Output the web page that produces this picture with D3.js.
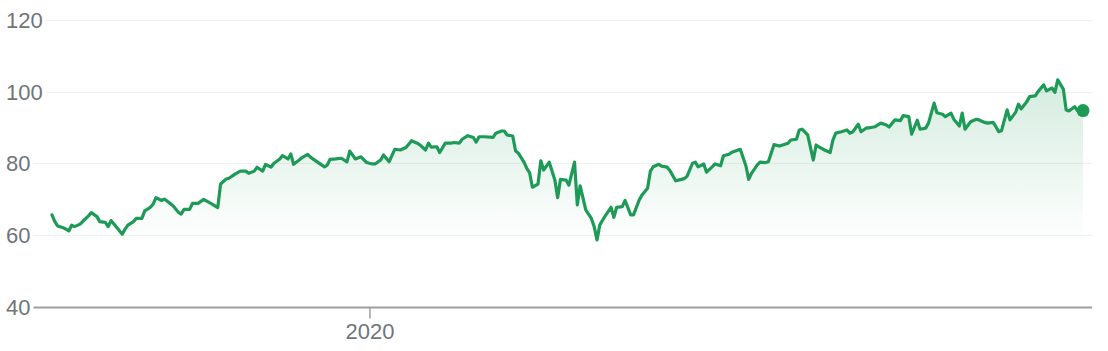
<html>
<head>
<title>Price chart</title>
<script src="https://d3js.org/d3.v7.min.js"></script>
<style>
body { margin: 0; background: #fff; }
svg { display: block; font-family: Arial, 'Liberation Sans', sans-serif; }
.grid { stroke: #f0f0f0; stroke-width: 1; }
.base { stroke: #9e9e9e; stroke-width: 2; }
.label { fill: #70757a; font-size: 22px; }
</style>
</head>
<body>
<div id="plot"></div>
<script>

var width = 1108;
var height = 351;
var lineColor = "#1e9a57";

// first date of the series, every point is a day offset from it
var startDate = new Date(2019, 8, 10);
var endOffset = 367;

var dayOffsets = [0,1,2,4,6,7,8,10,11,13,14,16,17,19,20,21,23,25,26,27,29,30,32,33,35,36,37,39,40,42,43,45,46,47,49,50,
  52,54,57,59,60,62,63,65,67,69,70,72,73,75,76,78,79,81,82,84,85,86,88,89,91,92,94,97,98,99,101,
  103,105,106,108,110,112,114,115,117,118,120,122,124,126,128,130,131,133,134,135,137,138,140,142,143,145,146,148,150,151,152,154,
  157,158,160,161,162,164,165,166,168,169,170,171,173,174,175,177,179,180,181,183,184,186,187,188,190,192,193,194,195,197,199,200,201,203,204,206,
  207,209,210,212,213,214,216,217,219,220,222,223,225,226,228,229,230,232,233,235,236,238,239,241,242,245,247,248,249,251,252,254,255,256,257,
  259,262,263,265,266,267,269,271,272,273,275,277,278,279,281,283,284,285,287,288,290,291,293,295,297,298,300,302,303,305,306,308,
  309,311,312,314,315,317,318,320,321,323,324,325,327,329,330,332,333,335,336,337,338,340,341,343,344,345,347,348,350,351,353,354,356,357,358,360,361,362,364,365,367];

var prices = [65.6,63.7,62.5,62.0,61.1,62.7,62.3,63.0,63.8,65.3,66.2,65.1,63.7,63.5,62.3,64.0,62.1,60.2,61.6,62.7,63.7,64.6,64.6,66.7,67.7,68.6,70.4,69.6,70.0,68.8,68.2,66.3,65.8,67.1,67.1,68.8,
  68.8,69.9,68.6,67.6,74.2,75.6,75.8,76.9,77.8,77.8,77.2,77.8,78.9,77.8,79.7,78.9,80.0,81.1,82.1,81.2,82.6,79.7,80.9,81.6,82.5,81.7,80.6,79.0,79.5,81.1,81.2,
  81.4,80.4,83.4,81.2,81.8,80.2,79.8,79.8,80.9,82.3,80.4,83.9,83.7,84.4,86.3,85.6,85.1,83.7,85.6,84.5,84.6,83.0,85.6,85.6,85.8,85.6,86.7,87.7,87.2,85.9,87.4,87.4,
  87.2,88.4,89.0,89.0,87.9,87.6,83.5,82.8,80.3,78.6,77.4,73.3,74.2,80.7,78.1,80.3,75.3,70.4,75.5,75.3,73.9,80.3,68.4,73.7,67.0,64.6,62.3,58.6,62.8,65.4,67.7,64.9,67.7,67.9,69.6,65.6,
  65.6,69.7,71.1,73.0,77.8,79.0,79.7,79.2,78.9,77.9,75.1,75.3,75.7,76.3,80.0,80.3,79.0,79.8,77.5,79.0,79.8,79.3,82.1,82.5,83.1,83.9,79.3,75.5,77.2,79.5,80.3,80.2,80.4,82.8,85.2,
  84.8,85.6,86.5,86.7,89.3,89.5,87.9,80.9,85.1,84.6,83.7,83.0,86.5,88.4,88.8,89.3,88.4,88.7,90.9,88.8,89.9,89.9,90.2,91.2,90.7,90.1,92.1,91.9,93.3,93.0,88.1,92.0,
  89.5,89.8,91.2,96.8,94.1,93.7,93.0,94.0,92.3,90.4,94.0,89.5,91.6,92.3,92.1,91.4,91.2,91.4,90.2,88.8,89.1,94.9,92.1,94.2,96.5,95.2,97.2,98.6,98.8,100.0,101.9,100.2,101.0,99.8,103.3,100.7,94.9,94.6,95.8,94.7,94.7];

var yTicks = [120, 100, 80, 60, 40];
var xTickDates = [new Date(2020, 0, 1)];

var data = dayOffsets.map(function (d, i) {
  return { date: d3.timeDay.offset(startDate, d), price: prices[i] };
});

var svg = d3.select("#plot").append("svg")
  .attr("width", width).attr("height", height);

var xScale = d3.scaleTime()
  .domain([startDate, d3.timeDay.offset(startDate, endOffset)])
  .range([52, 1083]);
var yScale = d3.scaleLinear().domain([40, 120]).range([306.5, 20]);

var gridRight = 1092;

// y labels and grid lines, lines start just after the label text
yTicks.forEach(function (t) {
  var y = Math.round(yScale(t)) + 0.5;
  var label = svg.append("text").attr("class", "label")
    .attr("x", 6).attr("y", y)
    .attr("dy", "0.36em")
    .text(t);
  var textEnd = 6 + label.node().getComputedTextLength();
  svg.append("line")
    .attr("class", t === 40 ? "base" : "grid")
    .attr("x1", textEnd + 3).attr("x2", gridRight)
    .attr("y1", y).attr("y2", y);
});

// area gradient
var defs = svg.append("defs");
var grad = defs.append("linearGradient").attr("id", "fade")
  .attr("gradientUnits", "userSpaceOnUse")
  .attr("x1", 0).attr("x2", 0)
  .attr("y1", yScale(d3.max(prices))).attr("y2", yScale(58));
grad.append("stop").attr("offset", "0%").attr("stop-color", lineColor).attr("stop-opacity", 0.19);
grad.append("stop").attr("offset", "100%").attr("stop-color", lineColor).attr("stop-opacity", 0);

var area = d3.area()
  .x(function (d) { return xScale(d.date); })
  .y0(yScale(40))
  .y1(function (d) { return yScale(d.price); });

svg.append("path").datum(data)
  .attr("d", area)
  .attr("fill", "url(#fade)");

var line = d3.line()
  .x(function (d) { return xScale(d.date); })
  .y(function (d) { return yScale(d.price); });

svg.append("path").datum(data)
  .attr("d", line)
  .attr("fill", "none")
  .attr("stroke", lineColor)
  .attr("stroke-width", 3.2)
  .attr("stroke-linejoin", "round")
  .attr("stroke-linecap", "round");

var last = data[data.length - 1];
svg.append("circle")
  .attr("cx", xScale(last.date)).attr("cy", yScale(last.price))
  .attr("r", 6.5)
  .attr("fill", lineColor);

// x axis, only the year tick
var xAxis = d3.axisBottom(xScale)
  .tickValues(xTickDates)
  .tickFormat(d3.timeFormat("%Y"))
  .tickSize(11)
  .tickPadding(5);

var gx = svg.append("g")
  .attr("transform", "translate(0," + (Math.round(yScale(40)) + 0.5) + ")")
  .call(xAxis);
gx.select(".domain").remove();
gx.selectAll(".tick line").attr("stroke", "#9e9e9e").attr("stroke-width", 1.5);
gx.selectAll(".tick text")
  .attr("fill", "#70757a")
  .style("font-size", "22px")
  .style("font-family", "Arial, 'Liberation Sans', sans-serif");

</script>
</body>
</html>
